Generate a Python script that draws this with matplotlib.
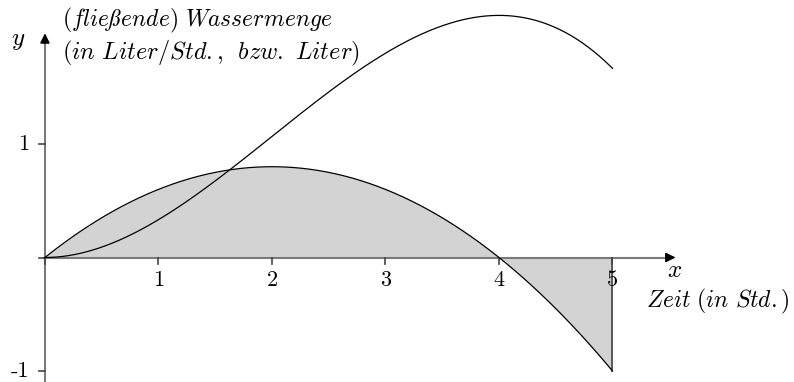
import numpy as np
import matplotlib.pyplot as plt

plt.rcParams['mathtext.fontset'] = 'cm'

# Zufluss-Rate f(x) = 0.8x - 0.2x^2 (Koeffizienten fuer np.polyval), Wassermenge = Stammfunktion
flow_coef = [-0.2, 0.8, 0.0]
amount_coef = np.polyint(flow_coef)
x_end = 5
x_ticks = [1, 2, 3, 4, 5]
y_ticks = [1, -1]
y_tick_labels = ['1', '-1']

xs = np.linspace(0, x_end, 400)
flow = np.polyval(flow_coef, xs)
amount = np.polyval(amount_coef, xs)

fig = plt.figure(figsize=(7.94, 3.82), dpi=100)
ax = fig.add_axes([0, 0, 1, 1])
ax.set_xlim(-0.396, 6.599)
ax.set_ylim(-1.097, 2.269)
ax.axis('off')

axis_col = '#7a7a7a'
tick_col = '#444444'

# shaded area between f and x axis
ax.fill_between(xs, flow, 0, color='#d3d3d3', lw=0, zorder=1)
ax.plot([x_end, x_end], [0, np.polyval(flow_coef, x_end)], color=tick_col, lw=1.2, zorder=3)

# axes
ax.plot([-0.01, 5.5], [0, 0], color=axis_col, lw=1.5, zorder=2)
ax.plot([0, 0], [-1.1, 1.95], color=axis_col, lw=1.5, zorder=2)
ax.annotate('', xy=(5.58, 0), xytext=(5.45, 0),
            arrowprops=dict(arrowstyle='-|>', color='black', lw=1.2, mutation_scale=14), zorder=4)
ax.annotate('', xy=(0, 2.0), xytext=(0, 1.87),
            arrowprops=dict(arrowstyle='-|>', color='black', lw=1.2, mutation_scale=14), zorder=4)

# ticks
tl = 0.055
for t in [0] + x_ticks:
    ax.plot([t, t], [0, -tl], color=tick_col, lw=1.2, zorder=3)
for t in [0] + y_ticks:
    ax.plot([0, -tl], [t, t], color=tick_col, lw=1.2, zorder=3)
for t in x_ticks:
    ax.text(t, -0.11, str(t), family='cmr10', fontsize=16, ha='center', va='top')
for t, lab in zip(y_ticks, y_tick_labels):
    ax.text(-0.14, t, lab, family='cmr10', fontsize=16, ha='right', va='center')

# curves
ax.plot(xs, flow, color='black', lw=0.9, zorder=3)
ax.plot(xs, amount, color='black', lw=0.9, zorder=3)

# labels
ax.text(-0.24, 1.92, r'$y$', fontsize=18, ha='center', va='center')
ax.text(5.55, -0.11, r'$x$', fontsize=18, ha='center', va='center')
ax.text(0.15, 2.09, r'$\mathit{(flie\ss ende)\ Wassermenge}$', fontsize=17, ha='left', va='center')
ax.text(0.15, 1.8, r'$\mathit{(in\ Liter/Std.{,}\ \ bzw.\ Liter)}$', fontsize=17.5, ha='left', va='center')
ax.text(5.93, -0.39, r'$\mathit{Zeit\ (in\ Std.)}$', fontsize=17, ha='center', va='center')

fig.savefig('out.png', dpi=100)
